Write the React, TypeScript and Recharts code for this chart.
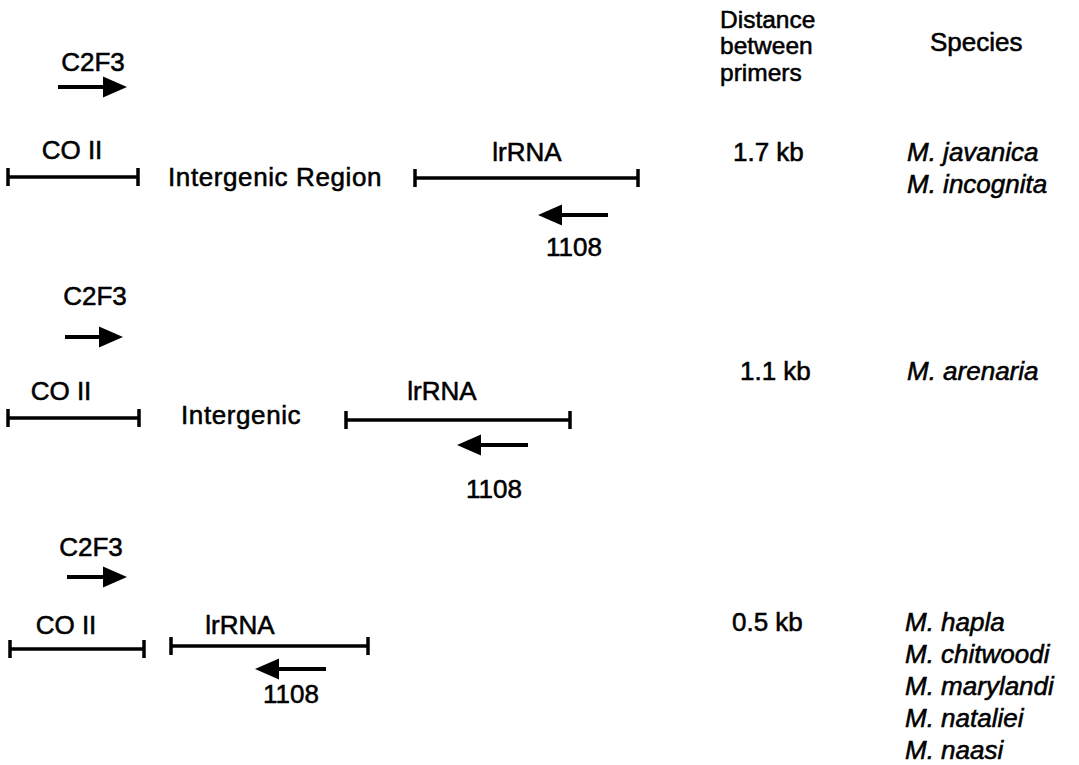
import React from 'react';
import { ScatterChart, Scatter, XAxis, YAxis, ReferenceLine } from 'recharts';

// Gene segments (bars with end ticks): x1, x2, y
const geneSegments = [
  { x1: 8, x2: 138, y: 177 },
  { x1: 415, x2: 638, y: 178 },
  { x1: 8, x2: 139, y: 418 },
  { x1: 346, x2: 570, y: 420 },
  { x1: 10, x2: 144, y: 649 },
  { x1: 171, x2: 368, y: 646 },
];

// Primer arrows: tail x, tip x, y
const primerArrows = [
  { tail: 58, tip: 127, y: 87 },
  { tail: 608, tip: 538, y: 215 },
  { tail: 65, tip: 123, y: 337 },
  { tail: 528, tip: 457, y: 445 },
  { tail: 67, tip: 127, y: 577 },
  { tail: 326, tip: 255, y: 669 },
];

// Centered labels (primer names, gene names)
const centeredLabels = [
  { x: 93, y: 62, text: 'C2F3' },
  { x: 72, y: 150, text: 'CO II' },
  { x: 527, y: 152, text: 'lrRNA' },
  { x: 574, y: 247, text: '1108' },
  { x: 95, y: 296, text: 'C2F3' },
  { x: 61, y: 391, text: 'CO II' },
  { x: 442, y: 391, text: 'lrRNA' },
  { x: 494, y: 489, text: '1108' },
  { x: 91, y: 547, text: 'C2F3' },
  { x: 66, y: 625, text: 'CO II' },
  { x: 240, y: 625, text: 'lrRNA' },
  { x: 291, y: 694, text: '1108' },
];

// Left-aligned region labels
const regionLabels = [
  { x: 168, y: 177, text: 'Intergenic Region' },
  { x: 181, y: 415, text: 'Intergenic' },
];

// Column headers
const distanceHeader = ['Distance', 'between', 'primers'];
const speciesHeader = [{ x: 930, y: 42, text: 'Species' }];
const distanceHeaderAnchor = [{ x: 720, y: 19 }];

// Distance between primers
const distanceLabels = [
  { x: 733, y: 152, text: '1.7 kb' },
  { x: 740, y: 371, text: '1.1 kb' },
  { x: 732, y: 622, text: '0.5 kb' },
];

// Species (italic)
const speciesLabels = [
  { x: 907, y: 152, text: 'M. javanica' },
  { x: 907, y: 184, text: 'M. incognita' },
  { x: 907, y: 371, text: 'M. arenaria' },
  { x: 905, y: 622, text: 'M. hapla' },
  { x: 905, y: 654, text: 'M. chitwoodi' },
  { x: 905, y: 686, text: 'M. marylandi' },
  { x: 905, y: 718, text: 'M. nataliei' },
  { x: 905, y: 750, text: 'M. naasi' },
];

const FONT = '"Liberation Sans", Arial, Helvetica, sans-serif';
const FS = 26;
const TICK = 9;
const HEAD_LEN = 24;
const HEAD_HALF = 10.5;
const SW = 3.5;
const TEXT_STROKE = 0.55;

const makeText = (anchor: string, italic: boolean, spacing = 0) => (props: any) => {
  const { cx, cy, payload } = props;
  if (cx == null || cy == null) return <g />;
  return (
    <text
      x={cx}
      y={cy}
      dy="0.36em"
      textAnchor={anchor}
      fontFamily={FONT}
      fontSize={FS}
      fontStyle={italic ? 'italic' : 'normal'}
      letterSpacing={spacing}
      fill="#000"
      stroke="#000"
      strokeWidth={TEXT_STROKE}
    >
      {payload.text}
    </text>
  );
};

const headerText = (props: any) => {
  const { cx, cy } = props;
  if (cx == null || cy == null) return <g />;
  return (
    <text
      x={cx}
      y={cy}
      fontFamily={FONT}
      fontSize={24.5}
      fill="#000"
      stroke="#000"
      strokeWidth={TEXT_STROKE}
    >
      {distanceHeader.map((line, i) => (
        <tspan key={line} x={cx} dy={i === 0 ? '0.36em' : 26.5}>
          {line}
        </tspan>
      ))}
    </text>
  );
};

const arrowHead = (props: any) => {
  const { cx, cy, payload } = props;
  if (cx == null || cy == null) return <g />;
  const dir = payload.tip > payload.tail ? 1 : -1;
  const bx = cx - dir * HEAD_LEN;
  return (
    <polygon
      points={`${cx},${cy} ${bx},${cy - HEAD_HALF} ${bx},${cy + HEAD_HALF}`}
      fill="#000"
    />
  );
};

const headData = primerArrows.map((a) => ({ x: a.tip, y: a.y, tip: a.tip, tail: a.tail }));

export default function App() {
  return (
    <div style={{ position: 'absolute', left: 0, top: 0, width: 1079, height: 765, background: '#fff' }}>
      <ScatterChart width={1079} height={765} margin={{ top: 0, right: 0, bottom: 0, left: 0 }}>
        <XAxis type="number" dataKey="x" domain={[0, 1079]} hide allowDataOverflow />
        <YAxis type="number" dataKey="y" domain={[0, 765]} reversed hide allowDataOverflow />
        {geneSegments.map((s, i) => (
          <ReferenceLine
            key={`g${i}`}
            segment={[{ x: s.x1, y: s.y }, { x: s.x2, y: s.y }]}
            stroke="#000"
            strokeWidth={SW}
            ifOverflow="visible"
          />
        ))}
        {geneSegments.map((s, i) => (
          <ReferenceLine
            key={`tl${i}`}
            segment={[{ x: s.x1, y: s.y - TICK }, { x: s.x1, y: s.y + TICK }]}
            stroke="#000"
            strokeWidth={SW}
            ifOverflow="visible"
          />
        ))}
        {geneSegments.map((s, i) => (
          <ReferenceLine
            key={`tr${i}`}
            segment={[{ x: s.x2, y: s.y - TICK }, { x: s.x2, y: s.y + TICK }]}
            stroke="#000"
            strokeWidth={SW}
            ifOverflow="visible"
          />
        ))}
        {primerArrows.map((a, i) => {
          const dir = a.tip > a.tail ? 1 : -1;
          return (
            <ReferenceLine
              key={`a${i}`}
              segment={[{ x: a.tail, y: a.y }, { x: a.tip - dir * (HEAD_LEN - 2), y: a.y }]}
              stroke="#000"
              strokeWidth={SW + 0.5}
              ifOverflow="visible"
            />
          );
        })}
        <Scatter data={headData} shape={arrowHead} isAnimationActive={false} />
        <Scatter data={centeredLabels} shape={makeText('middle', false)} isAnimationActive={false} />
        <Scatter data={regionLabels} shape={makeText('start', false, 0.6)} isAnimationActive={false} />
        <Scatter data={distanceHeaderAnchor} shape={headerText} isAnimationActive={false} />
        <Scatter data={speciesHeader} shape={makeText('start', false)} isAnimationActive={false} />
        <Scatter data={distanceLabels} shape={makeText('start', false)} isAnimationActive={false} />
        <Scatter data={speciesLabels} shape={makeText('start', true)} isAnimationActive={false} />
      </ScatterChart>
    </div>
  );
}
